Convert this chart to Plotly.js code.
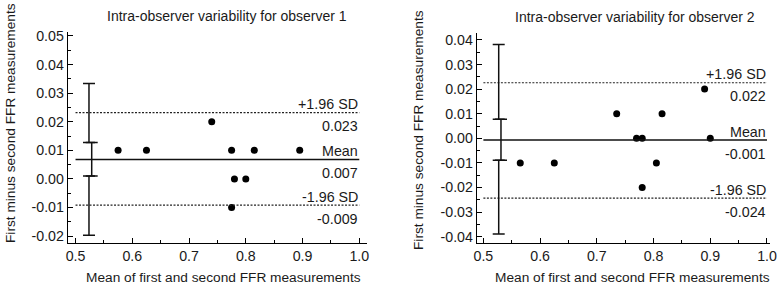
<!DOCTYPE html>
<html>
<head>
<meta charset="utf-8">
<script src="https://cdn.plot.ly/plotly-3.0.1.min.js"></script>
<style>html,body{margin:0;padding:0;background:#fff;}#chart{width:777px;height:287px;}</style>
</head>
<body>
<div id="chart"></div>
<script>
// ---------- data ----------
const obs1X = [0.575, 0.625, 0.74, 0.775, 0.815, 0.895, 0.78, 0.80, 0.775];
const obs1Y = [0.01, 0.01, 0.02, 0.01, 0.01, 0.01, 0.0, 0.0, -0.01];
const obs2X = [0.565, 0.625, 0.735, 0.77, 0.78, 0.815, 0.89, 0.90, 0.805, 0.78];
const obs2Y = [-0.01, -0.01, 0.01, 0.0, 0.0, 0.01, 0.02, 0.0, -0.01, -0.02];

// limits: [upper LoA, mean, lower LoA]
const obs1Lines = [0.0232, 0.0068, -0.0092];
const obs2Lines = [0.0226, -0.0007, -0.0243];
const lineNames = ["+1.96 SD", "Mean", "-1.96 SD"];
const obs1LineValues = ["0.023", "0.007", "-0.009"];
const obs2LineValues = ["0.022", "-0.001", "-0.024"];

// 95% CI bars: [low, high] for upper LoA, mean, lower LoA
const obs1CI = [[0.0127, 0.0334], [0.0010, 0.0127], [-0.0197, 0.0010]];
const obs2CI = [[0.0077, 0.0381], [-0.0089, 0.0077], [-0.0389, -0.0089]];
const obs1CIx = [0.5237, 0.5285, 0.5237];
const obs2CIx = [0.527, 0.531, 0.527];

const lineStart = 0.5, lineEnd = 1.0;

const titles = ["Intra-observer variability for observer 1", "Intra-observer variability for observer 2"];
const xTitle = "Mean of first and second FFR measurements";
const yTitle = "First minus second FFR measurements";

const y1TickVals = [-0.02, -0.01, 0.00, 0.01, 0.02, 0.03, 0.04, 0.05];
const y1TickText = ["-0.02", "-0.01", "0.00", "0.01", "0.02", "0.03", "0.04", "0.05"];
const y2TickVals = [-0.04, -0.03, -0.02, -0.01, 0.00, 0.01, 0.02, 0.03, 0.04];
const y2TickText = ["-0.04", "-0.03", "-0.02", "-0.01", "0.00", "0.01", "0.02", "0.03", "0.04"];
const xTickVals = [0.5, 0.6, 0.7, 0.8, 0.9, 1.0];
const xTickText = ["0.5", "0.6", "0.7", "0.8", "0.9", "1.0"];

// ---------- build ----------
const FONT = "Liberation Sans, Arial, sans-serif";
const TXT = "#1a1a1a";
const W = 777, H = 287;

function panel(px, py, lines, ci, cix, xa, ya) {
  const tr = [];
  tr.push({type: "scatter", mode: "markers", x: px, y: py, xaxis: xa, yaxis: ya,
    marker: {color: "#000", size: 7}, hoverinfo: "skip"});
  lines.forEach((v, i) => {
    tr.push({type: "scatter", mode: "lines", x: [lineStart, lineEnd], y: [v, v], xaxis: xa, yaxis: ya,
      line: {color: i === 1 ? "#111" : "#222", width: i === 1 ? 1.6 : 1.2, dash: i === 1 ? "solid" : "2px,1.5px"},
      hoverinfo: "skip"});
  });
  ci.forEach((c, i) => {
    const mid = (c[0] + c[1]) / 2;
    tr.push({type: "scatter", mode: "markers", x: [cix[i]], y: [mid], xaxis: xa, yaxis: ya,
      marker: {size: 1, color: "rgba(0,0,0,0)"},
      error_y: {type: "data", symmetric: false, array: [c[1] - mid], arrayminus: [mid - c[0]],
        color: "#111", thickness: 1.5, width: 6},
      hoverinfo: "skip"});
  });
  return tr;
}

const data = [].concat(
  panel(obs1X, obs1Y, obs1Lines, obs1CI, obs1CIx, "x", "y"),
  panel(obs2X, obs2Y, obs2Lines, obs2CI, obs2CIx, "x2", "y2")
);

function xaxis(dom, range, anchor) {
  return {domain: dom, range: range, anchor: anchor, showline: true, linecolor: "#000", linewidth: 1,
    showgrid: false, zeroline: false, ticks: "inside", ticklen: 5, tickwidth: 1, tickcolor: "#000",
    tickmode: "array", tickvals: xTickVals, ticktext: xTickText,
    minor: {ticks: "inside", ticklen: 3, tickwidth: 1, tickcolor: "#000", dtick: 0.05, tick0: 0.5, showgrid: false},
    tickfont: {family: FONT, size: 14.2, color: TXT}, fixedrange: true};
}
function yaxis(dom, range, anchor, tv, tt) {
  return {domain: dom, range: range, anchor: anchor, showline: true, linecolor: "#000", linewidth: 1,
    showgrid: false, zeroline: false, ticks: "inside", ticklen: 5, tickwidth: 1, tickcolor: "#000",
    tickmode: "array", tickvals: tv, ticktext: tt,
    minor: {ticks: "inside", ticklen: 3, tickwidth: 1, tickcolor: "#000", dtick: 0.005, tick0: 0, showgrid: false},
    tickfont: {family: FONT, size: 14.2, color: TXT}, fixedrange: true};
}

const annotations = [];
function lineLabels(lines, values, xr, yr) {
  lines.forEach((v, i) => {
    annotations.push({xref: xr, yref: yr, x: lineEnd, y: v, text: lineNames[i], showarrow: false,
      xanchor: "right", yanchor: "middle", yshift: 8.5, xshift: 1, font: {family: FONT, size: 14.3, color: TXT}});
    annotations.push({xref: xr, yref: yr, x: lineEnd, y: v, text: values[i], showarrow: false,
      xanchor: "right", yanchor: "middle", yshift: -13.5, xshift: 1, font: {family: FONT, size: 14.3, color: TXT}});
  });
}
lineLabels(obs1Lines, obs1LineValues, "x", "y");
lineLabels(obs2Lines, obs2LineValues, "x2", "y2");

function paperAnno(text, cx, cy, rot, size) {
  annotations.push({xref: "paper", yref: "paper", x: cx / W, y: 1 - cy / H, text: text, showarrow: false,
    xanchor: "center", yanchor: "middle", textangle: rot || 0,
    font: {family: FONT, size: size, color: TXT}});
}
paperAnno(titles[0], 227, 16, 0, 14);
paperAnno(titles[1], 635, 17, 0, 14);
paperAnno(xTitle, 223, 277, 0, 13.7);
paperAnno(xTitle, 632, 277, 0, 13.7);
paperAnno(yTitle, 10, 123, -90, 13.7);
paperAnno(yTitle, 418, 130, -90, 13.7);

const layout = {
  width: W, height: H, margin: {l: 0, r: 0, t: 0, b: 0},
  paper_bgcolor: "#fff", plot_bgcolor: "#fff", showlegend: false,
  xaxis: xaxis([67.7 / W, 367.3 / W], [0.4862, 1.0141], "y"),
  yaxis: yaxis([1 - 243.3 / H, 1 - 31.7 / H], [-0.02254, 0.0515], "x", y1TickVals, y1TickText),
  xaxis2: xaxis([476.7 / W, 770 / W], [0.4882, 1.0053], "y2"),
  yaxis2: yaxis([1 - 243.3 / H, 1 - 33.3 / H], [-0.0427, 0.0427], "x2", y2TickVals, y2TickText),
  annotations: annotations
};

Plotly.newPlot("chart", data, layout, {staticPlot: true, displayModeBar: false});
</script>
</body>
</html>
